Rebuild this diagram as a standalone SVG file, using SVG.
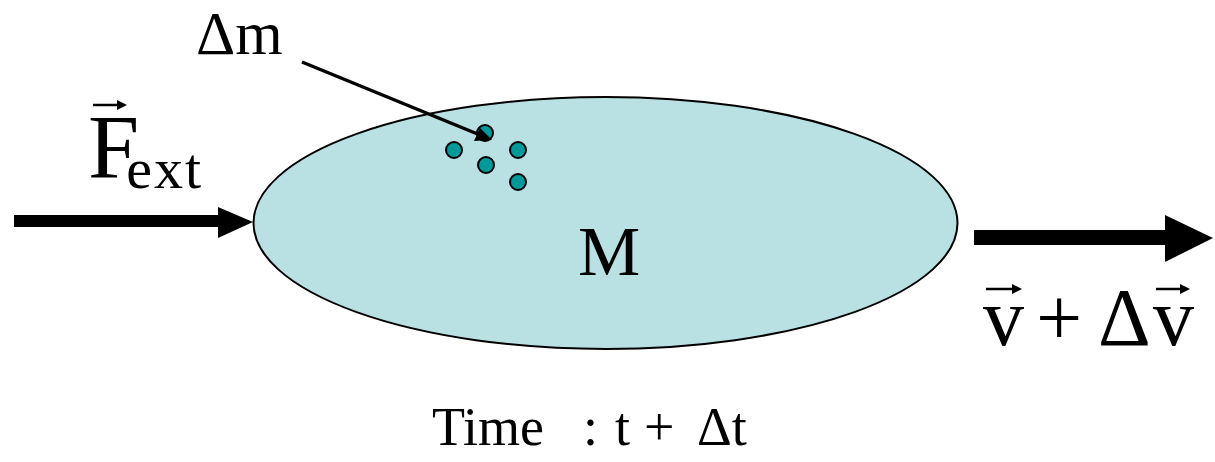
<svg xmlns="http://www.w3.org/2000/svg" width="1215" height="462" viewBox="0 0 1215 462">
<style>
.t{font-family:"Liberation Serif","Times New Roman",serif;fill:#000}
.dot{fill:#009999;stroke:#000;stroke-width:2}
.vec{stroke:#000;stroke-width:2.5;fill:none}
</style>
<rect width="1215" height="462" fill="#fff"/>
<g id="body">
<ellipse cx="605.5" cy="223" rx="352" ry="126" fill="#b9e0e3" stroke="#000" stroke-width="2"/>
<text class="t" x="609" y="275" font-size="70" text-anchor="middle">M</text>
</g>
<g id="particles">
<circle class="dot" cx="485" cy="133" r="8"/>
<circle class="dot" cx="454" cy="150" r="8"/>
<circle class="dot" cx="486" cy="165" r="8"/>
<circle class="dot" cx="518" cy="150" r="8"/>
<circle class="dot" cx="518" cy="182" r="8"/>
</g>
<g id="label-dm">
<text class="t" x="196" y="54" font-size="61">Δm</text>
</g>
<g id="label-F">
<text class="t" x="88" y="178" font-size="92"><tspan letter-spacing="-13">F</tspan><tspan dy="10" font-size="58" letter-spacing="2">ext</tspan></text>
<line class="vec" x1="93" y1="105" x2="122" y2="105"/>
<polygon points="127,105 117,100 117,110" fill="#000"/>
</g>
<g id="label-v">
<text class="t" y="345" font-size="82"><tspan x="983">v</tspan><tspan x="1036">+</tspan><tspan x="1098">Δ</tspan><tspan x="1153">v</tspan></text>
<line class="vec" x1="986" y1="289" x2="1017" y2="289"/>
<polygon points="1022,289 1012,284 1012,294" fill="#000"/>
<line class="vec" x1="1156" y1="289" x2="1185" y2="289"/>
<polygon points="1190,289 1180,284 1180,294" fill="#000"/>
</g>
<g id="label-time">
<text class="t" y="445" font-size="54"><tspan x="432">Time</tspan><tspan x="583">:</tspan><tspan x="615">t</tspan><tspan x="644">+</tspan><tspan x="697">Δt</tspan></text>
</g>
<g id="connectors">
<rect x="14" y="215" width="206" height="12" fill="#000"/>
<polygon points="218,207 253,222 218,238" fill="#000"/>
<rect x="974" y="230" width="193" height="15" fill="#000"/>
<polygon points="1165,215 1213,238 1165,262" fill="#000"/>
<line x1="302" y1="62" x2="480" y2="135" stroke="#000" stroke-width="3.5"/>
<polygon points="492,140 474,141 480,128" fill="#000"/>
</g>
</svg>
